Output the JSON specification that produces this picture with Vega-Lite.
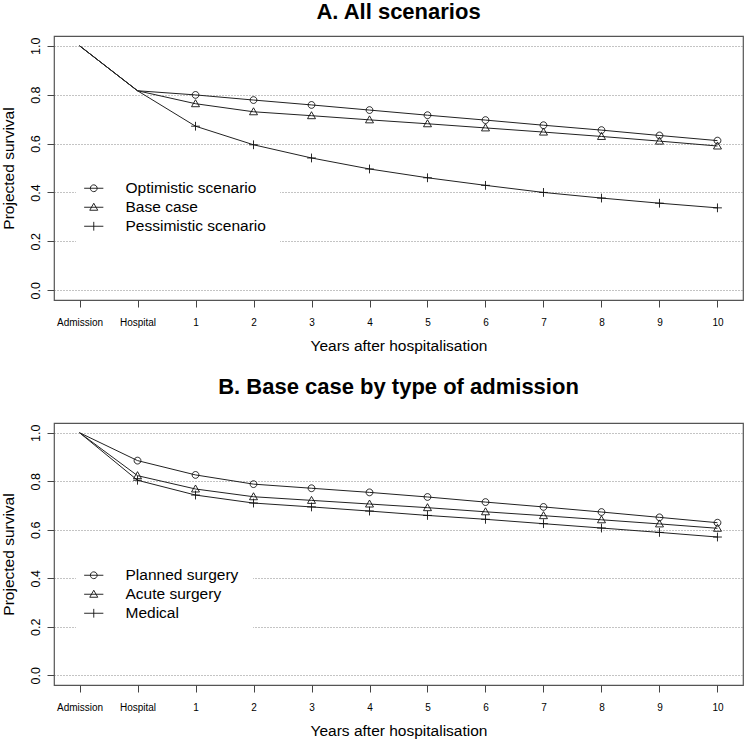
{
  "$schema": "https://vega.github.io/schema/vega-lite/v6.json",
  "autosize": {"type": "pad"},
  "padding": {"left": 0, "top": 0, "right": 0, "bottom": 0},
  "background": "white",
  "spacing": 20,
  "datasets": {
    "a": [
      {"time": "Admission", "series": "Optimistic scenario", "survival": 1.0},
      {"time": "Hospital", "series": "Optimistic scenario", "survival": 0.816},
      {"time": "1", "series": "Optimistic scenario", "survival": 0.799},
      {"time": "2", "series": "Optimistic scenario", "survival": 0.778},
      {"time": "3", "series": "Optimistic scenario", "survival": 0.758},
      {"time": "4", "series": "Optimistic scenario", "survival": 0.737},
      {"time": "5", "series": "Optimistic scenario", "survival": 0.716},
      {"time": "6", "series": "Optimistic scenario", "survival": 0.696},
      {"time": "7", "series": "Optimistic scenario", "survival": 0.675},
      {"time": "8", "series": "Optimistic scenario", "survival": 0.655},
      {"time": "9", "series": "Optimistic scenario", "survival": 0.633},
      {"time": "10", "series": "Optimistic scenario", "survival": 0.612},
      {"time": "Admission", "series": "Base case", "survival": 1.0},
      {"time": "Hospital", "series": "Base case", "survival": 0.816},
      {"time": "1", "series": "Base case", "survival": 0.763},
      {"time": "2", "series": "Base case", "survival": 0.730},
      {"time": "3", "series": "Base case", "survival": 0.714},
      {"time": "4", "series": "Base case", "survival": 0.697},
      {"time": "5", "series": "Base case", "survival": 0.681},
      {"time": "6", "series": "Base case", "survival": 0.664},
      {"time": "7", "series": "Base case", "survival": 0.647},
      {"time": "8", "series": "Base case", "survival": 0.629},
      {"time": "9", "series": "Base case", "survival": 0.610},
      {"time": "10", "series": "Base case", "survival": 0.590},
      {"time": "Admission", "series": "Pessimistic scenario", "survival": 1.0},
      {"time": "Hospital", "series": "Pessimistic scenario", "survival": 0.816},
      {"time": "1", "series": "Pessimistic scenario", "survival": 0.671},
      {"time": "2", "series": "Pessimistic scenario", "survival": 0.595},
      {"time": "3", "series": "Pessimistic scenario", "survival": 0.541},
      {"time": "4", "series": "Pessimistic scenario", "survival": 0.496},
      {"time": "5", "series": "Pessimistic scenario", "survival": 0.460},
      {"time": "6", "series": "Pessimistic scenario", "survival": 0.429},
      {"time": "7", "series": "Pessimistic scenario", "survival": 0.400},
      {"time": "8", "series": "Pessimistic scenario", "survival": 0.377},
      {"time": "9", "series": "Pessimistic scenario", "survival": 0.356},
      {"time": "10", "series": "Pessimistic scenario", "survival": 0.337}
    ],
    "b": [
      {"time": "Admission", "series": "Planned surgery", "survival": 1.0},
      {"time": "Hospital", "series": "Planned surgery", "survival": 0.885},
      {"time": "1", "series": "Planned surgery", "survival": 0.826},
      {"time": "2", "series": "Planned surgery", "survival": 0.788},
      {"time": "3", "series": "Planned surgery", "survival": 0.771},
      {"time": "4", "series": "Planned surgery", "survival": 0.754},
      {"time": "5", "series": "Planned surgery", "survival": 0.735},
      {"time": "6", "series": "Planned surgery", "survival": 0.714},
      {"time": "7", "series": "Planned surgery", "survival": 0.694},
      {"time": "8", "series": "Planned surgery", "survival": 0.673},
      {"time": "9", "series": "Planned surgery", "survival": 0.651},
      {"time": "10", "series": "Planned surgery", "survival": 0.629},
      {"time": "Admission", "series": "Acute surgery", "survival": 1.0},
      {"time": "Hospital", "series": "Acute surgery", "survival": 0.823},
      {"time": "1", "series": "Acute surgery", "survival": 0.768},
      {"time": "2", "series": "Acute surgery", "survival": 0.736},
      {"time": "3", "series": "Acute surgery", "survival": 0.721},
      {"time": "4", "series": "Acute surgery", "survival": 0.706},
      {"time": "5", "series": "Acute surgery", "survival": 0.691},
      {"time": "6", "series": "Acute surgery", "survival": 0.674},
      {"time": "7", "series": "Acute surgery", "survival": 0.658},
      {"time": "8", "series": "Acute surgery", "survival": 0.641},
      {"time": "9", "series": "Acute surgery", "survival": 0.624},
      {"time": "10", "series": "Acute surgery", "survival": 0.606},
      {"time": "Admission", "series": "Medical", "survival": 1.0},
      {"time": "Hospital", "series": "Medical", "survival": 0.804},
      {"time": "1", "series": "Medical", "survival": 0.743},
      {"time": "2", "series": "Medical", "survival": 0.710},
      {"time": "3", "series": "Medical", "survival": 0.694},
      {"time": "4", "series": "Medical", "survival": 0.677},
      {"time": "5", "series": "Medical", "survival": 0.659},
      {"time": "6", "series": "Medical", "survival": 0.643},
      {"time": "7", "series": "Medical", "survival": 0.625},
      {"time": "8", "series": "Medical", "survival": 0.607},
      {"time": "9", "series": "Medical", "survival": 0.589},
      {"time": "10", "series": "Medical", "survival": 0.570}
    ]
  },
  "vconcat": [
    {
      "data": {"name": "a"},
      "width": 689,
      "height": 264,
      "title": {"text": "A. All scenarios", "offset": 12},
      "encoding": {
        "x": {
          "field": "time", "type": "ordinal",
          "sort": ["Admission", "Hospital", "1", "2", "3", "4", "5", "6", "7", "8", "9", "10"],
          "scale": {"type": "point", "padding": 0.44},
          "axis": {"title": "Years after hospitalisation"}
        },
        "y": {
          "field": "survival", "type": "quantitative",
          "scale": {"domain": [-0.04, 1.04], "nice": false, "zero": false},
          "axis": {"title": "Projected survival", "values": [0, 0.2, 0.4, 0.6, 0.8, 1.0], "format": ".1f"}
        }
      },
      "layer": [
        {
          "mark": {"type": "line", "stroke": "#222", "strokeWidth": 1},
          "encoding": {"detail": {"field": "series"}}
        },
        {
          "transform": [{"filter": "datum.time !== 'Admission' && datum.time !== 'Hospital'"}],
          "mark": {"type": "point", "filled": false, "stroke": "#111", "strokeWidth": 0.9, "size": 64, "opacity": 1},
          "encoding": {
            "shape": {
              "field": "series", "type": "nominal",
              "scale": {
                "domain": ["Optimistic scenario", "Base case", "Pessimistic scenario"],
                "range": ["M0.85,0A0.85,0.85,0,1,1,-0.85,0A0.85,0.85,0,1,1,0.85,0Z", "M0,-1L1,0.75L-1,0.75Z", "M-1.1,0L1.1,0M0,-1.1L0,1.1"]
              },
              "legend": null
            }
          }
        },
        {
          "transform": [{"filter": "false"}],
          "mark": {"type": "point", "filled": false, "stroke": "#111", "strokeWidth": 0.9, "size": 64, "opacity": 1},
          "encoding": {
            "shape": {
              "field": "series", "type": "nominal",
              "scale": {
                "domain": ["Optimistic scenario", "Base case", "Pessimistic scenario"],
                "range": ["M-2.4,0L2.4,0M0.85,0A0.85,0.85,0,1,1,-0.85,0A0.85,0.85,0,1,1,0.85,0Z", "M-2.4,0L2.4,0M0,-1L1,0.75L-1,0.75Z", "M-2.4,0L2.4,0M0,-1.1L0,1.1"]
              },
              "legend": {"title": null, "orient": "none", "legendX": 22, "legendY": 130.5}
            }
          }
        }
      ],
      "resolve": {"scale": {"shape": "independent"}, "legend": {"shape": "independent"}}
    },
    {
      "data": {"name": "b"},
      "width": 689,
      "height": 262,
      "title": {"text": "B. Base case by type of admission", "offset": 24},
      "encoding": {
        "x": {
          "field": "time", "type": "ordinal",
          "sort": ["Admission", "Hospital", "1", "2", "3", "4", "5", "6", "7", "8", "9", "10"],
          "scale": {"type": "point", "padding": 0.44},
          "axis": {"title": "Years after hospitalisation"}
        },
        "y": {
          "field": "survival", "type": "quantitative",
          "scale": {"domain": [-0.04, 1.04], "nice": false, "zero": false},
          "axis": {"title": "Projected survival", "values": [0, 0.2, 0.4, 0.6, 0.8, 1.0], "format": ".1f"}
        }
      },
      "layer": [
        {
          "mark": {"type": "line", "stroke": "#222", "strokeWidth": 1},
          "encoding": {"detail": {"field": "series"}}
        },
        {
          "transform": [{"filter": "datum.time !== 'Admission'"}],
          "mark": {"type": "point", "filled": false, "stroke": "#111", "strokeWidth": 0.9, "size": 64, "opacity": 1},
          "encoding": {
            "shape": {
              "field": "series", "type": "nominal",
              "scale": {
                "domain": ["Planned surgery", "Acute surgery", "Medical"],
                "range": ["M0.85,0A0.85,0.85,0,1,1,-0.85,0A0.85,0.85,0,1,1,0.85,0Z", "M0,-1L1,0.75L-1,0.75Z", "M-1.1,0L1.1,0M0,-1.1L0,1.1"]
              },
              "legend": null
            }
          }
        },
        {
          "transform": [{"filter": "false"}],
          "mark": {"type": "point", "filled": false, "stroke": "#111", "strokeWidth": 0.9, "size": 64, "opacity": 1},
          "encoding": {
            "shape": {
              "field": "series", "type": "nominal",
              "scale": {
                "domain": ["Planned surgery", "Acute surgery", "Medical"],
                "range": ["M-2.4,0L2.4,0M0.85,0A0.85,0.85,0,1,1,-0.85,0A0.85,0.85,0,1,1,0.85,0Z", "M-2.4,0L2.4,0M0,-1L1,0.75L-1,0.75Z", "M-2.4,0L2.4,0M0,-1.1L0,1.1"]
              },
              "legend": {"title": null, "orient": "none", "legendX": 22, "legendY": 130.5}
            }
          }
        }
      ],
      "resolve": {"scale": {"shape": "independent"}, "legend": {"shape": "independent"}}
    }
  ],
  "resolve": {"scale": {"shape": "independent", "x": "independent", "y": "independent"}, "legend": {"shape": "independent"}},
  "config": {
    "font": "Liberation Sans",
    "view": {"stroke": "#555", "strokeWidth": 1.2},
    "title": {"font": "Liberation Sans", "fontSize": 22, "fontWeight": "bold", "anchor": "middle", "frame": "group", "baseline": "alphabetic", "color": "#000"},
    "axis": {"labelFont": "Liberation Sans", "titleFont": "Liberation Sans", "labelColor": "#000", "titleColor": "#000", "titleFontWeight": "normal", "domain": false, "tickColor": "#444", "tickSize": 7, "tickWidth": 1},
    "axisX": {"labelFontSize": 10, "labelAngle": 0, "labelPadding": 10, "titleFontSize": 15.5, "titlePadding": 11, "grid": false, "labelBaseline": "top"},
    "axisY": {"labelFontSize": 12.5, "labelAngle": 270, "labelAlign": "center", "labelBaseline": "alphabetic", "labelPadding": 8, "titleFontSize": 15.5, "titlePadding": 13, "grid": true, "gridColor": "#888", "gridDash": [1, 2], "gridWidth": 1},
    "legend": {"fillColor": "white", "padding": 14, "labelFont": "Liberation Sans", "labelFontSize": 15.5, "labelColor": "#000", "labelOffset": 24, "symbolOffset": -4, "rowPadding": 2, "symbolSize": 64, "symbolStrokeWidth": 0.9, "symbolStrokeColor": "#111", "symbolFillColor": "transparent"}
  }
}
